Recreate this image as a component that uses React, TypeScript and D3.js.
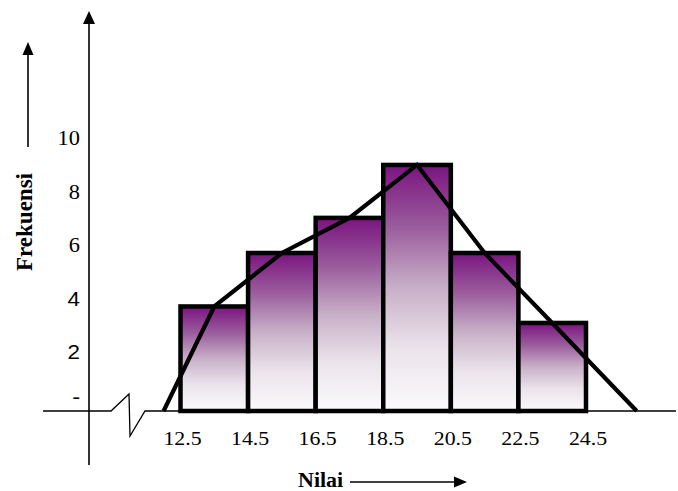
import React from "react";
import * as d3 from "d3";

const classEdges = [12.5, 14.5, 16.5, 18.5, 20.5, 22.5, 24.5];
const edgeLabels = ["12.5", "14.5", "16.5", "18.5", "20.5", "22.5", "24.5"];
const frequencies = [3.93, 5.94, 7.26, 9.25, 5.94, 3.31];
const polygonX = [12.0, 13.5, 15.5, 17.5, 19.5, 21.5, 23.5, 26.0];
const polygonY = [0, 3.93, 5.94, 7.26, 9.25, 5.94, 3.31, 0];
const yTickValues = [0, 2, 4, 6, 8, 10];
const yTickLabels = ["-", "2", "4", "6", "8", "10"];
const yTickFonts = ["Liberation Serif", "Liberation Sans", "Liberation Sans", "Liberation Serif", "Liberation Serif", "Liberation Serif"];
const yTitle = "Frekuensi";
const xTitle = "Nilai";

const W = 678;
const H = 491;

export default function App() {
  const x = d3.scaleLinear().domain([12.5, 24.5]).range([180.5, 586]);
  const y = d3.scaleLinear().domain([0, 10]).range([411, 145]);
  const serif = "'Liberation Serif', 'Times New Roman', serif";

  const bars = frequencies.map((f, i) => ({
    x0: classEdges[i],
    x1: classEdges[i + 1],
    f,
  }));

  const line = d3
    .line<number>()
    .x((_, i) => x(polygonX[i]))
    .y((d) => y(d));

  const baseY = y(0);
  const axisX = 89;

  return (
    <svg
      width={W}
      height={H}
      viewBox={`0 0 ${W} ${H}`}
      style={{ position: "absolute", left: 0, top: 0, background: "#fff" }}
    >
      <defs>
        <linearGradient id="barGrad" x1="0" y1="0" x2="0" y2="1">
          <stop offset="0" stopColor="#7a1480" />
          <stop offset="0.25" stopColor="#9a5c9c" />
          <stop offset="0.5" stopColor="#c8b0c8" />
          <stop offset="0.75" stopColor="#ebe4eb" />
          <stop offset="1" stopColor="#fbfafc" />
        </linearGradient>
      </defs>

      {/* baseline with break */}
      <path
        d={`M43,${baseY} L111,${baseY} L129,${baseY - 17} L130,${baseY + 25} L145,${baseY} L676,${baseY}`}
        fill="none"
        stroke="#000"
        strokeWidth={1.3}
      />

      {/* y axis with arrow */}
      <line x1={axisX} x2={axisX} y1={465} y2={20} stroke="#000" strokeWidth={1.6} />
      <path d={`M${axisX},11 L${axisX - 6},24 L${axisX + 6},24 Z`} fill="#000" />

      {/* bars */}
      {bars.map((b, i) => (
        <rect
          key={i}
          x={x(b.x0)}
          y={y(b.f)}
          width={x(b.x1) - x(b.x0)}
          height={baseY - y(b.f)}
          fill="url(#barGrad)"
          stroke="#000"
          strokeWidth={4.5}
        />
      ))}

      {/* frequency polygon */}
      <path d={line(polygonY) || ""} fill="none" stroke="#000" strokeWidth={4.2} strokeLinejoin="miter" />

      {/* y tick labels */}
      {yTickValues.map((v, i) => (
        <text
          key={v}
          transform={`translate(80,${y(v) + (v === 0 ? -8 : v === 10 ? 0 : 1)}) scale(1.12,1)`}
          textAnchor="end"
          fontFamily={yTickFonts[i]}
          fontSize={20}
          fill="#000"
        >
          {yTickLabels[i]}
        </text>
      ))}

      {/* x tick labels */}
      {classEdges.map((e, i) => (
        <text
          key={e}
          transform={`translate(${x(e) + 2},445) scale(1.15,1)`}
          textAnchor="middle"
          fontFamily={serif}
          fontSize={19}
          fill="#000"
        >
          {edgeLabels[i]}
        </text>
      ))}

      {/* y title with arrow */}
      <text
        transform="translate(32,222) rotate(-90)"
        textAnchor="middle"
        fontFamily={serif}
        fontWeight="bold"
        fontSize={23}
        fill="#000"
      >
        {yTitle}
      </text>
      <line x1={28} x2={28} y1={147} y2={52} stroke="#000" strokeWidth={1.6} />
      <path d="M28,42 L22.5,55 L33.5,55 Z" fill="#000" />

      {/* x title with arrow */}
      <text
        transform="translate(298,487) scale(1.1,1)"
        fontFamily={serif}
        fontWeight="bold"
        fontSize={20}
        fill="#000"
      >
        {xTitle}
      </text>
      <line x1={350} x2={456} y1={482} y2={482} stroke="#000" strokeWidth={1.6} />
      <path d="M467,482 L454,476.5 L454,487.5 Z" fill="#000" />
    </svg>
  );
}
